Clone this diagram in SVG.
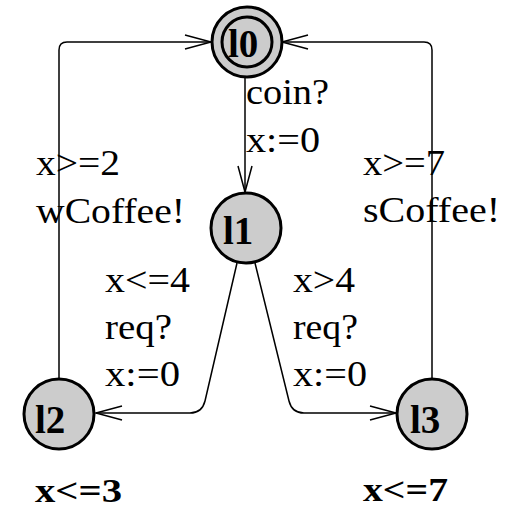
<svg xmlns="http://www.w3.org/2000/svg" width="517" height="509" viewBox="0 0 517 509">
<style>
.node{fill:#cccccc;stroke:#000;stroke-width:3}
.inner{fill:none;stroke:#000;stroke-width:3}
.nl{font-family:"Liberation Serif","Times New Roman",serif;font-weight:bold;font-size:39px;fill:#000}
.edge{fill:none;stroke:#000;stroke-width:1.5}
.lab{font-family:"Liberation Serif","Times New Roman",serif;font-size:36px;fill:#000}
.inv{font-family:"Liberation Serif","Times New Roman",serif;font-weight:bold;font-size:34px;fill:#000}
</style>
<defs>
<marker id="arr" markerUnits="userSpaceOnUse" markerWidth="40" markerHeight="30" refX="0" refY="0" viewBox="-30 -15 40 30" orient="auto" overflow="visible">
<path d="M -26 -7 L 0 0 L -26 7" fill="none" stroke="#000" stroke-width="1.5"/>
</marker>
</defs>
<rect width="517" height="509" fill="#fff"/>
<g id="connectors">
<path class="edge" d="M 245 77 L 245 192" marker-end="url(#arr)"/>
<path class="edge" d="M 237 263 L 205 401 Q 202 413 190 413 L 96 413" marker-end="url(#arr)"/>
<path class="edge" d="M 255 263 L 289 401 Q 292 413 304 413 L 396 413" marker-end="url(#arr)"/>
<path class="edge" d="M 59 379 L 59 50 Q 59 42 67 42 L 211 42" marker-end="url(#arr)"/>
<path class="edge" d="M 432 379 L 432 50 Q 432 42 424 42 L 282 42" marker-end="url(#arr)"/>
</g>
<g id="edge-labels">
<text class="lab" x="246" y="104" textLength="83" lengthAdjust="spacingAndGlyphs">coin?</text>
<text class="lab" x="246" y="152" textLength="74" lengthAdjust="spacingAndGlyphs">x:=0</text>
<text class="lab" x="36" y="175" textLength="84" lengthAdjust="spacingAndGlyphs">x&gt;=2</text>
<text class="lab" x="36" y="223" textLength="149" lengthAdjust="spacingAndGlyphs">wCoffee!</text>
<text class="lab" x="363" y="175" textLength="82" lengthAdjust="spacingAndGlyphs">x&gt;=7</text>
<text class="lab" x="363" y="222" textLength="137" lengthAdjust="spacingAndGlyphs">sCoffee!</text>
<text class="lab" x="105" y="292" textLength="85" lengthAdjust="spacingAndGlyphs">x&lt;=4</text>
<text class="lab" x="105" y="339" textLength="67" lengthAdjust="spacingAndGlyphs">req?</text>
<text class="lab" x="105" y="386" textLength="75" lengthAdjust="spacingAndGlyphs">x:=0</text>
<text class="lab" x="293" y="292" textLength="62" lengthAdjust="spacingAndGlyphs">x&gt;4</text>
<text class="lab" x="293" y="339" textLength="65" lengthAdjust="spacingAndGlyphs">req?</text>
<text class="lab" x="293" y="386" textLength="74" lengthAdjust="spacingAndGlyphs">x:=0</text>
</g>
<g id="l0">
<circle class="node" cx="247" cy="42" r="35"/>
<circle class="inner" cx="247" cy="42" r="25"/>
<text class="nl" x="228" y="57">l0</text>
</g>
<g id="l1">
<circle class="node" cx="246" cy="228" r="35"/>
<text class="nl" x="223" y="244">l1</text>
</g>
<g id="l2">
<circle class="node" cx="59" cy="414" r="35"/>
<text class="nl" x="35" y="433">l2</text>
<text class="inv" x="35" y="502" textLength="87" lengthAdjust="spacingAndGlyphs">x&lt;=3</text>
</g>
<g id="l3">
<circle class="node" cx="432" cy="414" r="35"/>
<text class="nl" x="410" y="433">l3</text>
<text class="inv" x="363" y="501" textLength="85" lengthAdjust="spacingAndGlyphs">x&lt;=7</text>
</g>
</svg>
